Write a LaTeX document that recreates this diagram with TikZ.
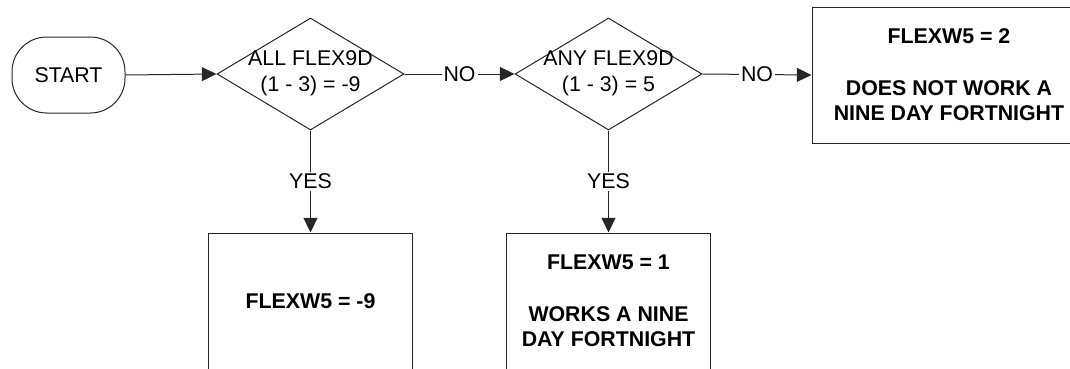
\documentclass[tikz,border=0pt]{standalone}
\usepackage{fontspec}
\setmainfont{Liberation Sans}
\usetikzlibrary{shapes.geometric,arrows.meta}
\tikzset{
  ln/.style={draw=black!85, line width=0.75pt},
  arr/.style={ln, -{Triangle[length=11pt,width=10.5pt]}},
  basefont/.style={font=\fontsize{16}{19.3}\selectfont},
  startbox/.style={ln, basefont, rectangle, rounded corners=26pt, minimum width=84.75pt, minimum height=57pt, inner sep=0pt},
  dia/.style={ln, diamond, minimum width=140.25pt, minimum height=84pt, inner sep=0pt},
  diatext/.style={basefont, align=center, inner sep=0pt},
  resbox/.style={ln, font=\fontsize{16}{19.3}\selectfont\bfseries, align=center, minimum width=153pt, minimum height=102pt, inner sep=0pt},
  widebox/.style={resbox, minimum width=205.5pt},
  lbl/.style={basefont, fill=white, inner sep=1.5pt},
}
\begin{document}
\begin{tikzpicture}[x=0.75pt, y=-0.75pt]
\useasboundingbox (0,0) rectangle (1070,368);
\clip (0,0) rectangle (1070,368);
\node[startbox] (start) at (68.5,75) {START};
\node[dia] (d1) at (310.5,74) {};
\node[diatext] (d1t) at (310.5,73) {ALL FLEX9D\\(1 - 3) = -9};
\node[dia] (d2) at (608.5,74) {};
\node[diatext] (d2t) at (608.5,73) {ANY FLEX9D\\(1 - 3) = 5};
\node[widebox] (r3) at (949,75) {FLEXW5 = 2\\[19.3pt]DOES NOT WORK A\\NINE DAY FORTNIGHT};
\node[resbox] (r1) at (310.5,301) {FLEXW5 = -9};
\node[resbox] (r2) at (608.5,301) {FLEXW5 = 1\\[19.3pt]WORKS A NINE\\DAY FORTNIGHT};
\draw[arr] (start.east) -- (d1.west);
\draw[arr] (d1.east) -- node[lbl] (no1) {NO} (d2.west);
\draw[arr] (d2.east) -- node[lbl] (no2) {NO} (r3.west);
\draw[arr] (d1.south) -- node[lbl] (yes1) {YES} (r1.north);
\draw[arr] (d2.south) -- node[lbl] (yes2) {YES} (r2.north);
\end{tikzpicture}
\end{document}
